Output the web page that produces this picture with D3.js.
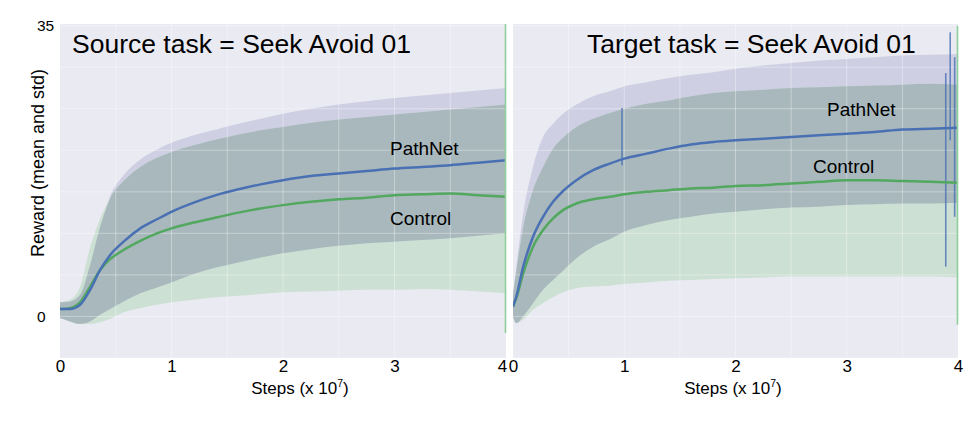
<!DOCTYPE html>
<html>
<head>
<meta charset="utf-8">
<script src="https://cdn.jsdelivr.net/npm/d3@7"></script>
<style>
  html, body { margin: 0; padding: 0; background: #ffffff; }
  svg { display: block; font-family: "Liberation Sans", Arial, sans-serif; }
</style>
</head>
<body>
<svg id="chart" width="980" height="422"></svg>
<script>
// ---------------- DATA ----------------
const steps = [0, 0.03, 0.09, 0.18, 0.27, 0.36, 0.45, 0.57, 0.72, 0.87, 1.0, 1.2, 1.4, 1.6, 1.8, 2.0, 2.25, 2.5, 2.75, 3.0, 3.25, 3.5, 3.75, 4.0];

// Source task panel
const srcPathNetMean  = [0.9, 0.9, 0.9, 1.4, 3.2, 5.6, 7.4, 9.0, 10.6, 11.7, 12.6, 13.7, 14.6, 15.3, 15.9, 16.4, 16.9, 17.2, 17.5, 17.8, 18.0, 18.2, 18.5, 18.8];
const srcPathNetUpper = [1.7, 1.7, 1.8, 2.6, 6.2, 10.8, 14.5, 17.0, 18.9, 20.1, 20.9, 21.8, 22.5, 23.2, 23.8, 24.4, 25.0, 25.5, 25.9, 26.3, 26.6, 26.9, 27.2, 27.5];
const srcPathNetLower = [-0.2, -0.3, -0.6, -0.9, -0.6, 0.2, 0.9, 1.8, 2.8, 3.5, 4.1, 5.1, 5.9, 6.5, 7.1, 7.6, 8.1, 8.5, 8.8, 9.0, 9.2, 9.4, 9.7, 10.0];
const srcControlMean  = [0.9, 0.9, 1.0, 1.7, 3.6, 5.6, 6.9, 8.0, 9.1, 10.0, 10.6, 11.3, 11.9, 12.5, 13.0, 13.4, 13.8, 14.1, 14.3, 14.6, 14.7, 14.8, 14.6, 14.4];
const srcControlUpper = [1.7, 1.8, 2.0, 3.6, 8.3, 11.8, 14.2, 16.3, 18.0, 19.1, 19.8, 20.6, 21.3, 21.9, 22.4, 22.8, 23.3, 23.7, 24.0, 24.3, 24.6, 24.9, 25.2, 25.5];
const srcControlLower = [-0.2, -0.3, -0.6, -0.9, -0.9, -0.7, -0.3, 0.5, 1.0, 1.4, 1.7, 2.0, 2.3, 2.5, 2.7, 2.9, 3.0, 3.1, 3.2, 3.2, 3.3, 3.2, 3.0, 2.8];

// Target task panel
const tgtPathNetMean  = [1.2, 2.4, 5.9, 9.6, 12.0, 13.8, 15.1, 16.4, 17.6, 18.4, 19.0, 19.6, 20.2, 20.7, 21.0, 21.2, 21.4, 21.6, 21.8, 22.0, 22.2, 22.5, 22.6, 22.7];
const tgtPathNetUpper = [2.6, 6.0, 12.2, 18.0, 21.6, 23.2, 24.4, 25.5, 26.5, 27.1, 27.7, 28.2, 28.7, 29.1, 29.4, 29.8, 30.2, 30.5, 30.8, 31.0, 31.2, 31.4, 31.5, 31.6];
const tgtPathNetLower = [0.0, -0.8, 0.0, 1.6, 3.2, 4.4, 5.5, 7.0, 8.4, 9.3, 10.2, 11.0, 11.6, 12.0, 12.4, 12.6, 12.9, 13.1, 13.2, 13.4, 13.5, 13.6, 13.6, 13.7];
const tgtControlMean  = [1.2, 2.2, 5.1, 8.4, 10.4, 11.8, 12.8, 13.6, 14.1, 14.4, 14.7, 15.0, 15.2, 15.4, 15.5, 15.7, 15.8, 16.0, 16.2, 16.4, 16.4, 16.3, 16.2, 16.1];
const tgtControlUpper = [2.6, 5.5, 10.6, 15.2, 18.0, 20.2, 21.5, 22.8, 23.8, 24.5, 25.0, 25.6, 26.0, 26.5, 26.9, 27.1, 27.3, 27.5, 27.6, 27.7, 27.8, 27.9, 28.0, 27.9];
const tgtControlLower = [0.0, -0.8, -0.4, 0.8, 1.6, 2.3, 2.9, 3.4, 3.6, 3.7, 3.9, 4.1, 4.3, 4.4, 4.5, 4.6, 4.7, 4.8, 4.8, 4.8, 4.8, 4.8, 4.8, 4.7];

// artefact vertical strokes seen in the picture: [step, from, to]
const srcBlueSpikes  = [];
const tgtBlueSpikes  = [[0.98, 18.2, 25.1], [3.89, 6.0, 29.3], [3.93, 21.2, 34.2], [3.97, 12.0, 31.2]];
const srcGreenEdge   = [[4.0, -2.0, 35.2]];
const tgtGreenEdge   = [[4.0, -1.0, 35.0]];

const xTicks = [0, 1, 2, 3, 4];
const yTicks = [0, 35];
const yGrid  = [-5, 0, 5, 10, 15, 20, 25, 30, 35];
const xGrid  = [0.5, 1, 1.5, 2, 2.5, 3, 3.5];
const titles = ["Source task = Seek Avoid 01", "Target task = Seek Avoid 01"];
const seriesNames = ["PathNet", "Control"];
const xLabel = "Steps (x 10";
const yLabel = "Reward (mean and std)";

// ---------------- STYLE ----------------
const C = {
  bg: "#eaeaf2",
  pathBand: "#cfcfe4",
  ctrlBand: "#cde0d4",
  overlap: "#a9b8bd",
  blue: "#4a70b4",
  green: "#52a85e",
  edge: "#8fcf9c",
  text: "#000000"
};

const svg = d3.select("#chart");
const plotTop = 24, plotBottom = 358;
const y = d3.scaleLinear().domain([-5, 35.2]).range([plotBottom, plotTop]);

const panels = [
  { x0: 60, x1: 506, title: titles[0], tx: 72, data: {pm: srcPathNetMean, pu: srcPathNetUpper, pl: srcPathNetLower, cm: srcControlMean, cu: srcControlUpper, cl: srcControlLower},
    spikes: srcBlueSpikes, edges: srcGreenEdge, pLab: [390, 155], cLab: [390, 225], xLabX: 300, yAxis: true },
  { x0: 513, x1: 958, title: titles[1], tx: 587, data: {pm: tgtPathNetMean, pu: tgtPathNetUpper, pl: tgtPathNetLower, cm: tgtControlMean, cu: tgtControlUpper, cl: tgtControlLower},
    spikes: tgtBlueSpikes, edges: tgtGreenEdge, pLab: [827, 116], cLab: [813, 173], xLabX: 733, yAxis: false }
];

panels.forEach((p, pi) => {
  const x = d3.scaleLinear().domain([0, 4]).range([p.x0, p.x1]);
  const g = svg.append("g");
  const clipId = "clip" + pi;
  svg.append("clipPath").attr("id", clipId).append("rect")
    .attr("x", p.x0).attr("y", plotTop).attr("width", p.x1 - p.x0 + 1).attr("height", plotBottom - plotTop);

  g.append("rect").attr("x", p.x0).attr("y", plotTop).attr("width", p.x1 - p.x0).attr("height", plotBottom - plotTop).attr("fill", C.bg);

  const rows = steps.map((s, i) => ({
    s, pm: p.data.pm[i], pu: p.data.pu[i], pl: p.data.pl[i], cm: p.data.cm[i], cu: p.data.cu[i], cl: p.data.cl[i]
  }));

  const plot = g.append("g").attr("clip-path", `url(#${clipId})`);

  const band = (lo, hi) => d3.area().x(d => x(d.s)).y0(d => y(lo(d))).y1(d => y(hi(d))).curve(d3.curveMonotoneX);
  plot.append("path").datum(rows).attr("fill", C.pathBand).attr("d", band(d => d.pl, d => d.pu));
  plot.append("path").datum(rows).attr("fill", C.ctrlBand).attr("d", band(d => d.cl, d => d.cu));
  plot.append("path").datum(rows).attr("fill", C.overlap)
    .attr("d", band(d => Math.max(d.pl, d.cl), d => Math.max(Math.max(d.pl, d.cl), Math.min(d.pu, d.cu))));

  // grid
  plot.selectAll(".hg").data(yGrid).join("line")
    .attr("x1", p.x0).attr("x2", p.x1).attr("y1", d => y(d)).attr("y2", d => y(d))
    .attr("stroke", "#ffffff").attr("stroke-opacity", 0.35).attr("stroke-width", 1);
  plot.selectAll(".vg").data(xGrid).join("line")
    .attr("x1", d => x(d)).attr("x2", d => x(d)).attr("y1", plotTop).attr("y2", plotBottom)
    .attr("stroke", "#ffffff").attr("stroke-opacity", 0.35).attr("stroke-width", 1);

  // spikes
  plot.selectAll(".sp").data(p.spikes).join("line")
    .attr("x1", d => x(d[0])).attr("x2", d => x(d[0])).attr("y1", d => y(d[1])).attr("y2", d => y(d[2]))
    .attr("stroke", C.blue).attr("stroke-opacity", 0.8).attr("stroke-width", 1.6);

  const line = key => d3.line().x(d => x(d.s)).y(d => y(d[key])).curve(d3.curveMonotoneX);
  plot.append("path").datum(rows).attr("fill", "none").attr("stroke", C.green).attr("stroke-width", 2.5).attr("d", line("cm"));
  plot.append("path").datum(rows).attr("fill", "none").attr("stroke", C.blue).attr("stroke-width", 2.5).attr("d", line("pm"));

  plot.selectAll(".ed").data(p.edges).join("line")
    .attr("x1", d => x(d[0]) - 0.5).attr("x2", d => x(d[0]) - 0.5).attr("y1", d => y(d[1])).attr("y2", d => y(d[2]))
    .attr("stroke", C.edge).attr("stroke-width", 1.6);

  // x axis
  const xa = g.append("g").attr("transform", `translate(0,${plotBottom})`)
    .call(d3.axisBottom(x).tickValues(xTicks).tickSize(0).tickPadding(2).tickFormat(d3.format("d")));
  xa.select(".domain").remove();
  xa.selectAll("text").attr("font-size", 17).attr("fill", C.text).attr("font-family", "Liberation Sans, Arial, sans-serif");
  if (pi === 0) xa.selectAll("text").attr("dx", d => d === 4 ? -4 : 0);

  const xl = g.append("text").attr("x", p.xLabX).attr("y", 394).attr("text-anchor", "middle")
    .attr("font-size", 17).attr("fill", C.text);
  xl.append("tspan").text(xLabel);
  xl.append("tspan").attr("dy", -7).attr("font-size", 10.5).text("7");
  xl.append("tspan").attr("dy", 7).text(")");

  // y axis
  if (p.yAxis) {
    const ya = g.append("g").attr("transform", `translate(${p.x0},0)`)
      .call(d3.axisLeft(y).tickValues(yTicks).tickSize(0).tickPadding(0));
    ya.select(".domain").remove();
    ya.selectAll("text").attr("x", -23).attr("text-anchor", "start").attr("font-size", 15.5).attr("fill", C.text)
      .attr("font-family", "Liberation Sans, Arial, sans-serif");
    g.append("text").attr("transform", `translate(44,163) rotate(-90)`).attr("text-anchor", "middle")
      .attr("font-size", 18).attr("fill", C.text).text(yLabel);
  }

  // title
  g.append("text").attr("x", p.tx).attr("y", 53).attr("font-size", 26.5).attr("fill", C.text).text(p.title);
  // series labels
  g.append("text").attr("x", p.pLab[0]).attr("y", p.pLab[1]).attr("font-size", 19).attr("fill", C.text).text(seriesNames[0]);
  g.append("text").attr("x", p.cLab[0]).attr("y", p.cLab[1]).attr("font-size", 19).attr("fill", C.text).text(seriesNames[1]);
});
</script>
</body>
</html>
